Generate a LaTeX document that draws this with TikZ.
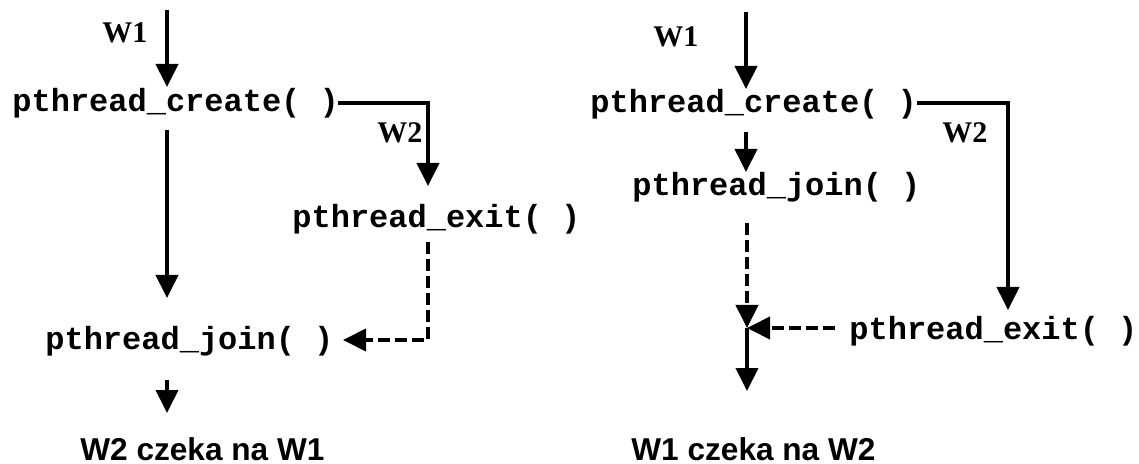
\documentclass[tikz,border=0pt]{standalone}
\usepackage{fontspec}
\setmainfont{Liberation Serif}
\newfontfamily\codefont{Liberation Mono}
\newfontfamily\labelfont{Liberation Sans}
\usetikzlibrary{arrows.meta}
\tikzset{
  code/.style={font=\codefont\bfseries\fontsize{16}{18}\selectfont, anchor=base west, inner sep=0pt},
  thr/.style={font=\rmfamily\bfseries\fontsize{15}{17}\selectfont, anchor=base west, inner sep=0pt},
  caption/.style={font=\labelfont\bfseries\fontsize{15.8}{18}\selectfont, anchor=base west, inner sep=0pt},
  flow/.style={line width=2pt, -{Triangle[length=11.5pt,width=11pt]}},
  wait/.style={line width=2pt, dash pattern=on 6pt off 2.5pt, -{Triangle[length=11.5pt,width=11pt]}},
}
\begin{document}
\begin{tikzpicture}[x=0.5pt,y=-0.5pt]
\useasboundingbox (0,0) rectangle (1139,464);
% ---------- left ----------
\node[thr] (lw1) at (102,43) {W1};
\node[code] (lcreate) at (12,112) {pthread\_create( )};
\node[thr] (lw2) at (377,143) {W2};
\node[code] (lexit) at (292,228) {pthread\_exit( )};
\node[code] (ljoin) at (45,350) {pthread\_join( )};
\node[caption] (lcap) at (80,460) {W2 czeka na W1};
\coordinate (lt0) at (167,10);
\coordinate (lt1) at (167,87);
\coordinate (lm0) at (167,130);
\coordinate (lm1) at (167,298);
\coordinate (lb0) at (167,380);
\coordinate (lb1) at (167,413);
\coordinate (lc0) at (338,103);
\coordinate (lc1) at (428,103);
\coordinate (lc2) at (428,186);
\coordinate (ld0) at (428,242);
\coordinate (ld1) at (428,340);
\coordinate (ld2) at (343,340);
\draw[flow] (lt0) -- (lt1);
\draw[flow] (lm0) -- (lm1);
\draw[flow] (lb0) -- (lb1);
\draw[flow] (lc0) -- (lc1) -- (lc2);
\draw[wait] (ld0) -- (ld1) -- (ld2);
% ---------- right ----------
\node[thr] (rw1) at (653,47) {W1};
\node[code] (rcreate) at (590,113) {pthread\_create( )};
\node[thr] (rw2) at (942,143) {W2};
\node[code] (rjoin) at (632,196) {pthread\_join( )};
\node[code] (rexit) at (849,340) {pthread\_exit( )};
\node[caption] (rcap) at (631,460) {W1 czeka na W2};
\coordinate (rt0) at (746,12);
\coordinate (rt1) at (746,89);
\coordinate (rs0) at (746,132);
\coordinate (rs1) at (746,172);
\coordinate (rc0) at (917,103);
\coordinate (rc1) at (1008,103);
\coordinate (rc2) at (1008,310);
\coordinate (rd0) at (747,223);
\coordinate (rx) at (747,328);
\coordinate (rh0) at (835,328);
\coordinate (rb1) at (747,391);
\draw[flow] (rt0) -- (rt1);
\draw[flow] (rs0) -- (rs1);
\draw[flow] (rc0) -- (rc1) -- (rc2);
\draw[wait] (rd0) -- (rx);
\draw[wait] (rh0) -- (rx);
\draw[flow] (rx) -- (rb1);
\end{tikzpicture}
\end{document}
